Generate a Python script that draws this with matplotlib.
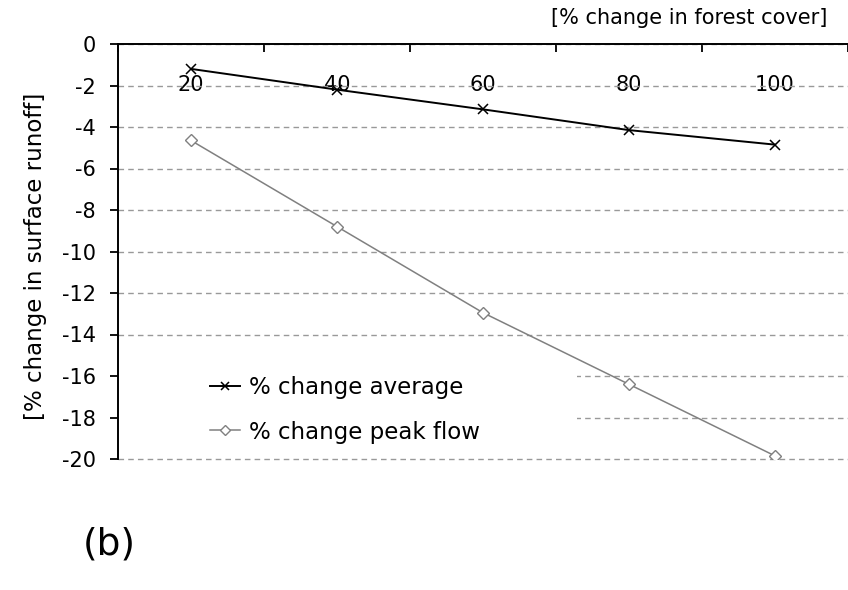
import matplotlib
matplotlib.use('Agg')
import matplotlib.pyplot as plt
import numpy as np

# values
forest_cover = ['20', '40', '60', '80', '100']
change_average = [-1.2, -2.2, -3.15, -4.15, -4.85]
change_peak = [-4.65, -8.8, -12.95, -16.4, -19.85]
y_ticks = [0, -2, -4, -6, -8, -10, -12, -14, -16, -18, -20]

plt.rcParams['font.family'] = ['DejaVu Sans']
plt.rcParams['font.size'] = 15

fig = plt.figure(figsize=(8.48, 5.90), dpi=100)
ax = fig.add_axes([118/848, 1-459/590, 730/848, 415/590])

x = np.arange(len(forest_cover))
ax.plot(x, change_average, color='black', lw=1.4, marker='x', ms=7, mew=1.1,
        label='% change average', zorder=3)
ax.plot(x, change_peak, color='#808080', lw=1.1, marker='D', ms=6, mfc='white',
        mec='#808080', mew=1.0, label='% change peak flow', zorder=3)

ax.set_xlim(-0.5, len(forest_cover) - 0.5)
ax.set_ylim(-20, 0)
ax.set_yticks(y_ticks)
ax.set_yticklabels([str(v) for v in y_ticks])

# category axis sits on top (at 0), labels drawn below it
ax.xaxis.set_ticks_position('top')
ax.set_xticks(np.arange(-0.5, len(forest_cover)), minor=False)
ax.set_xticklabels([])
ax.set_xticks(x, minor=True)
ax.set_xticklabels(forest_cover, minor=True)
ax.tick_params(axis='x', which='major', direction='in', length=6, width=1.3)
ax.tick_params(axis='x', which='minor', length=0, pad=-36.5, labeltop=True)
ax.tick_params(axis='y', direction='out', length=6, width=1.3, pad=10)

for s in ['right', 'bottom']:
    ax.spines[s].set_visible(False)
for s in ['left', 'top']:
    ax.spines[s].set_linewidth(1.4)

ax.grid(axis='y', color='#999999', ls=(0, (4, 3)), lw=1.0)
for gl in ax.get_ygridlines():
    gl.set_clip_on(False)

# white legend area hides the gridlines behind it
ax.add_patch(plt.Rectangle((0, 0.035), (577-118)/730, 0.22, transform=ax.transAxes,
                           facecolor='white', edgecolor='none', zorder=1.6))
ax.legend(loc='center left', bbox_to_anchor=(0.126, 0.119), frameon=False,
          borderpad=0, borderaxespad=0, handlelength=1.3, handletextpad=0.4,
          labelspacing=0.95, markerscale=0.8, fontsize=16.5)

ax.set_ylabel('[% change in surface runoff]', fontsize=16.5)
ax.yaxis.set_label_coords(-(118-47)/730, 1-(256-44)/415)
fig.text(827/848, 1-18/590, '[% change in forest cover]', ha='right', va='center')
fig.text(83/848, 1-545/590, '(b)', ha='left', va='center', fontsize=27)

fig.savefig('out.png', dpi=100)
